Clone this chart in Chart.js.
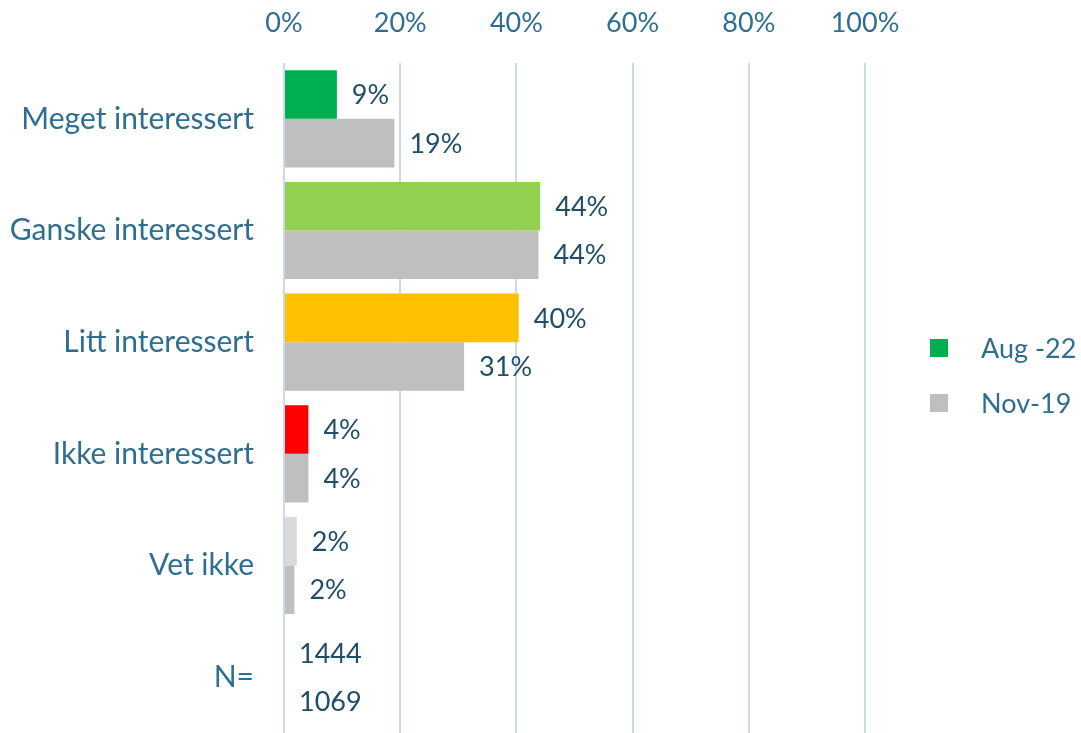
<!DOCTYPE html>
<html>
<head>
<meta charset="utf-8">
<script src="https://cdn.jsdelivr.net/npm/chart.js@4/dist/chart.umd.min.js"></script>
<style>
  html, body { margin: 0; padding: 0; background: #ffffff; }
  #wrap { width: 1081px; height: 733px; }
</style>
</head>
<body>
<div id="wrap"><canvas id="chart" width="1081" height="733"></canvas></div>
<script>
// kategorier og verdier lest av bildet
const categories = ['Meget interessert', 'Ganske interessert', 'Litt interessert', 'Ikke interessert', 'Vet ikke', 'N='];
const seriesNames = ['Aug -22', 'Nov-19'];
const aug22 = [9.1, 44.1, 40.4, 4.2, 2.2, 0];
const nov19 = [19.0, 43.8, 31.0, 4.2, 1.8, 0];
const nCounts = [1444, 1069];
const xTicks = [0, 20, 40, 60, 80, 100];

// farger
const augColors = ['#00b050', '#92d050', '#ffc000', '#ff0000', '#d9d9d9', '#ffffff'];
const novColor = '#bfbfbf';
const axisText = '#2f6e91';
const labelText = '#1f4e69';
const gridColor = '#c6dbec';
const FONT = 'Lato, "Open Sans", sans-serif';

// verdietiketter til høyre for søylene (N= raden viser antall)
const valueLabels = {
    id: 'valueLabels',
    afterDatasetsDraw(chart) {
        const ctx = chart.ctx;
        ctx.save();
        ctx.font = '27px ' + FONT;
        ctx.fillStyle = labelText;
        ctx.textAlign = 'left';
        ctx.textBaseline = 'middle';
        chart.data.datasets.forEach((ds, di) => {
            const meta = chart.getDatasetMeta(di);
            meta.data.forEach((bar, i) => {
                const txt = categories[i] === 'N='
                    ? String(nCounts[di])
                    : Math.round(ds.data[i]) + '%';
                ctx.fillText(txt, bar.x + 15, bar.y + 1);
            });
        });
        ctx.restore();
    }
};

// forklaring til høyre, som i originalen
const sideLegend = {
    id: 'sideLegend',
    afterDraw(chart) {
        const ctx = chart.ctx;
        const colors = [augColors[0], novColor];
        ctx.save();
        ctx.font = '27px ' + FONT;
        ctx.textAlign = 'left';
        ctx.textBaseline = 'middle';
        seriesNames.forEach((name, i) => {
            const cy = 348 + i * 55;
            ctx.fillStyle = colors[i];
            ctx.fillRect(930, cy - 9, 18, 18);
            ctx.fillStyle = axisText;
            ctx.fillText(name, 981, cy + 1);
        });
        ctx.restore();
    }
};

new Chart(document.getElementById('chart'), {
    type: 'bar',
    data: {
        labels: categories,
        datasets: [
            {
                label: seriesNames[0],
                data: aug22,
                backgroundColor: (c) => c.type === 'data' ? augColors[c.dataIndex] : augColors[0],
                borderWidth: 0,
                categoryPercentage: 0.87,
                barPercentage: 1.0
            },
            {
                label: seriesNames[1],
                data: nov19,
                backgroundColor: novColor,
                borderWidth: 0,
                categoryPercentage: 0.87,
                barPercentage: 1.0
            }
        ]
    },
    options: {
        indexAxis: 'y',
        responsive: false,
        animation: false,
        layout: { padding: { left: 0, right: 216, top: 0, bottom: 0 } },
        plugins: {
            legend: { display: false },
            tooltip: { enabled: false }
        },
        scales: {
            x: {
                position: 'top',
                min: 0,
                max: 100,
                afterBuildTicks: (scale) => {
                    scale.ticks = xTicks.map(v => ({ value: v }));
                },
                afterFit: (scale) => { scale.height = 63; },
                ticks: {
                    color: axisText,
                    font: { family: FONT, size: 27 },
                    padding: 24,
                    callback: (v) => v + '%'
                },
                grid: {
                    color: gridColor,
                    lineWidth: 2,
                    drawTicks: false
                },
                border: { display: false }
            },
            y: {
                afterFit: (scale) => {
                    scale.width = 284;
                    scale.paddingTop = 0;
                    scale.paddingBottom = 0;
                },
                ticks: {
                    color: axisText,
                    font: { family: FONT, size: 30 },
                    padding: 30
                },
                grid: { display: false, drawTicks: false },
                border: { display: false }
            }
        }
    },
    plugins: [valueLabels, sideLegend]
});
</script>
</body>
</html>
